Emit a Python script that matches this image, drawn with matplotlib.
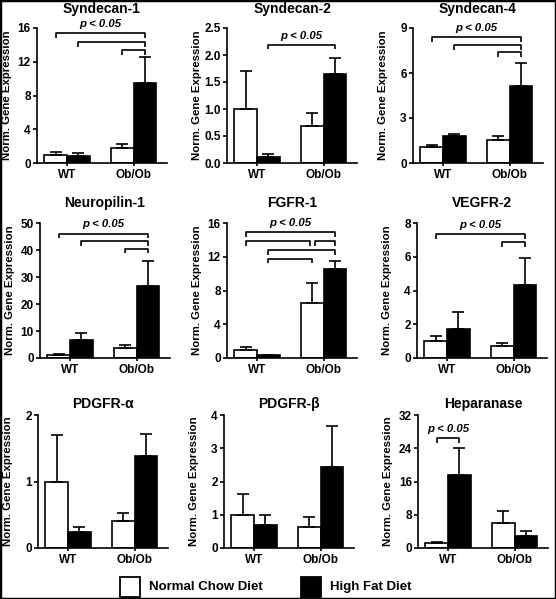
import matplotlib
matplotlib.use("Agg")
import matplotlib.pyplot as plt
from matplotlib.patches import Rectangle
import numpy as np

plt.rcParams['font.family'] = ['Liberation Sans', 'DejaVu Sans']
plt.rcParams['font.weight'] = 'bold'

# ---------------- data ----------------
groups = ["WT", "Ob/Ob"]
diets = ["Normal Chow Diet", "High Fat Diet"]
titles = ["Syndecan-1", "Syndecan-2", "Syndecan-4",
          "Neuropilin-1", "FGFR-1", "VEGFR-2",
          "PDGFR-α", "PDGFR-β", "Heparanase"]

chow_mean = [[1.0, 1.8], [1.0, 0.69], [1.04, 1.51],
             [1.0, 3.7], [1.0, 6.5], [1.0, 0.71],
             [1.0, 0.41], [1.0, 0.62], [1.1, 6.05]]
chow_err = [[0.25, 0.45], [0.70, 0.24], [0.14, 0.31],
            [0.6, 1.0], [0.3, 2.4], [0.3, 0.18],
            [0.70, 0.12], [0.61, 0.32], [0.3, 2.95]]
fat_mean = [[0.85, 9.5], [0.12, 1.64], [1.82, 5.16],
            [6.5, 26.8], [0.32, 10.5], [1.73, 4.32],
            [0.24, 1.38], [0.69, 2.45], [17.45, 3.0]]
fat_err = [[0.35, 3.05], [0.05, 0.30], [0.14, 1.51],
           [2.7, 9.1], [0.08, 0.96], [0.99, 1.59],
           [0.07, 0.34], [0.31, 1.23], [6.55, 1.2]]

y_max = [16, 2.5, 9, 50, 16, 8, 2, 4, 32]
y_step = [4, 0.5, 3, 10, 4, 2, 1, 1, 8]
y_decimals = [0, 1, 0, 0, 0, 0, 0, 0, 0]

# significance brackets: (bar a, bar b, height); bars 0=WT chow,1=WT fat,2=Ob chow,3=Ob fat
brackets = [
    [(0, 3, 15.4), (1, 3, 14.3), (2, 3, 13.4)],
    [(1, 3, 2.19)],
    [(0, 3, 8.38), (1, 3, 7.84), (2, 3, 7.38)],
    [(0, 3, 46.1), (1, 3, 43.2), (2, 3, 40.5)],
    [(0, 3, 14.94), (0, 2, 13.87), (2, 3, 13.87), (1, 3, 12.77), (1, 2, 11.78)],
    [(0, 3, 7.35), (2, 3, 6.86)],
    [],
    [],
    [(0, 1, 26.5)],
]
sig_label = "p < 0.05"

# ---------------- layout ----------------
W, H = 556, 599
fig = plt.figure(figsize=(W / 100, H / 100), dpi=100)

lefts = [37, 227, 413, 40, 227, 417, 38, 224, 418]
row_top = [28, 223, 415]
row_bot = [163, 358, 548]
title_y = [9, 203, 404]
ax_w = 130

bw = 0.34
x = np.arange(len(groups))
bar_x = [x[0] - bw / 2, x[0] + bw / 2, x[1] - bw / 2, x[1] + bw / 2]
LW = 1.2

for i in range(9):
    r = i // 3
    l = lefts[i]
    ax = fig.add_axes([l / W, 1 - row_bot[r] / H, ax_w / W, (row_bot[r] - row_top[r]) / H])
    ax.bar(x - bw / 2, chow_mean[i], bw, color='white', edgecolor='black', linewidth=LW, zorder=2)
    ax.bar(x + bw / 2, fat_mean[i], bw, color='black', edgecolor='black', linewidth=LW, zorder=2)
    ax.errorbar(x - bw / 2, chow_mean[i], yerr=[np.zeros(2), chow_err[i]], fmt='none',
                ecolor='black', elinewidth=LW, capsize=4.3, capthick=LW, zorder=3)
    ax.errorbar(x + bw / 2, fat_mean[i], yerr=[np.zeros(2), fat_err[i]], fmt='none',
                ecolor='black', elinewidth=LW, capsize=4.3, capthick=LW, zorder=3)
    ax.set_xlim(-0.45, 1.5)
    ax.set_ylim(0, y_max[i])
    ticks = np.arange(0, y_max[i] + y_step[i] / 2, y_step[i])
    ax.set_yticks(ticks)
    if y_decimals[i]:
        ax.set_yticklabels([f"{t:.1f}" for t in ticks])
    else:
        ax.set_yticklabels([f"{t:g}" for t in ticks])
    ax.set_xticks(x)
    ax.set_xticklabels(groups)
    for s in ['top', 'right']:
        ax.spines[s].set_visible(False)
    for s in ['left', 'bottom']:
        ax.spines[s].set_linewidth(LW)
    ax.tick_params(axis='y', direction='out', length=3, width=LW, pad=1.5, labelsize=8.5)
    ax.tick_params(axis='x', direction='out', length=2.5, width=LW, pad=2, labelsize=8.5)
    for lab in ax.get_xticklabels() + ax.get_yticklabels():
        lab.set_fontweight('bold')
    ax.set_ylabel("Norm. Gene Expression", fontsize=8.2, fontweight='bold')
    ax.yaxis.set_label_coords(-25 / ax_w, 0.5)
    fig.text((l + ax_w / 2) / W, 1 - title_y[r] / H, titles[i], ha='center', va='center',
             fontsize=10, fontweight='bold')

    # brackets
    br = brackets[i]
    drop = 0.035 * y_max[i]
    for (a, b, h) in br:
        xa, xb = bar_x[a], bar_x[b]
        # small gap when two brackets share an endpoint at the same height
        for (a2, b2, h2) in br:
            if h2 == h and (a2, b2) != (a, b):
                if b == a2:
                    xb -= 0.04
                if a == b2:
                    xa += 0.04
        ax.plot([xa, xa, xb, xb], [h - drop, h, h, h - drop], color='black', lw=LW,
                clip_on=False, solid_capstyle='butt', zorder=4)
    if br:
        a, b, h = max(br, key=lambda t: t[2])
        ax.text((bar_x[a] + bar_x[b]) / 2, h + 0.03 * y_max[i], sig_label, ha='center', va='bottom',
                fontsize=8.2, fontweight='bold', fontstyle='italic', clip_on=False)

# legend
leg_colors = ['white', 'black']
leg_box_x = [120, 301]
for lab, col, bx in zip(diets, leg_colors, leg_box_x):
    fig.add_artist(Rectangle((bx / W, 1 - 597 / H), 20 / W, 20 / H, transform=fig.transFigure,
                             facecolor=col, edgecolor='black', linewidth=1.3))
    fig.text((bx + 29) / W, 1 - 587 / H, lab, ha='left', va='center', fontsize=9.5, fontweight='bold')

# outer frame
fig.add_artist(Rectangle((0, 0), 1, 1, transform=fig.transFigure, fill=False,
                         edgecolor='black', linewidth=2.5))

fig.savefig("out.png", dpi=100)
